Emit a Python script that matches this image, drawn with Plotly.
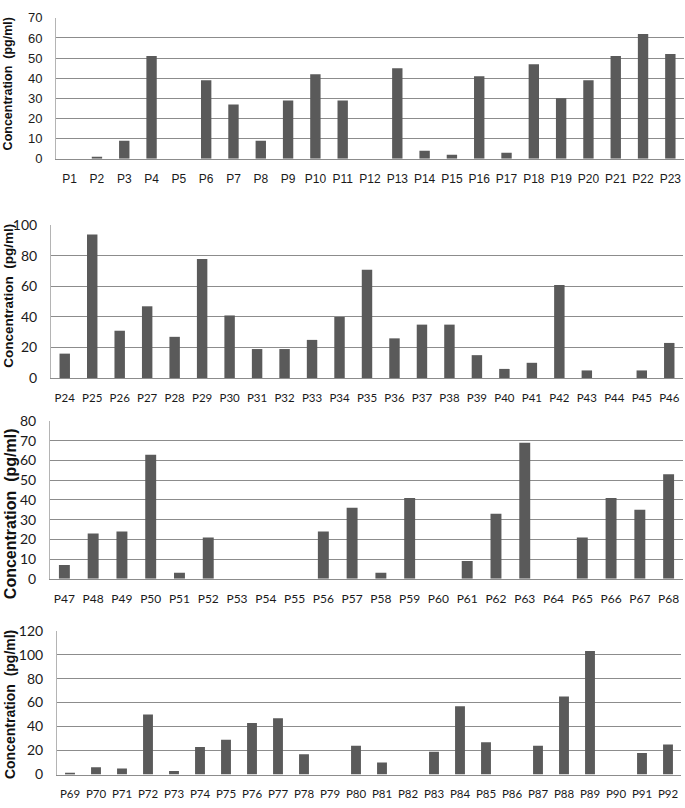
import plotly.graph_objects as go

W, H = 685, 808

# ---------------- data ----------------
cats1 = ["P1", "P2", "P3", "P4", "P5", "P6", "P7", "P8", "P9", "P10", "P11", "P12",
         "P13", "P14", "P15", "P16", "P17", "P18", "P19", "P20", "P21", "P22", "P23"]
vals1 = [0, 1, 9, 51, 0, 39, 27, 9, 29, 42, 29, 0, 45, 4, 2, 41, 3, 47, 30, 39, 51, 62, 52]

cats2 = ["P24", "P25", "P26", "P27", "P28", "P29", "P30", "P31", "P32", "P33", "P34", "P35",
         "P36", "P37", "P38", "P39", "P40", "P41", "P42", "P43", "P44", "P45", "P46"]
vals2 = [16, 94, 31, 47, 27, 78, 41, 19, 19, 25, 40, 71, 26, 35, 35, 15, 6, 10, 61, 5, 0, 5, 23]

cats3 = ["P47", "P48", "P49", "P50", "P51", "P52", "P53", "P54", "P55", "P56", "P57",
         "P58", "P59", "P60", "P61", "P62", "P63", "P64", "P65", "P66", "P67", "P68"]
vals3 = [7, 23, 24, 63, 3, 21, 0, 0, 0, 24, 36, 3, 41, 0, 9, 33, 69, 0, 21, 41, 35, 53]

cats4 = ["P69", "P70", "P71", "P72", "P73", "P74", "P75", "P76", "P77", "P78", "P79", "P80",
         "P81", "P82", "P83", "P84", "P85", "P86", "P87", "P88", "P89", "P90", "P91", "P92"]
vals4 = [1, 6, 5, 50, 3, 23, 29, 43, 47, 17, 0, 24, 10, 0, 19, 57, 27, 0, 24, 65, 103, 0, 18, 25]

y_max = [70, 100, 80, 120]
y_step = [10, 20, 10, 20]
y_title = "Concentration\u00a0 (pg/ml)"

# ---------------- layout geometry (pixels) ----------------
ARIAL = "Liberation Sans, Arial, sans-serif"
CALI = "Lato, Liberation Sans, Arial, sans-serif"
panels = [
    dict(x0=56, x1=684, yb=153, yt=9, tx=8, ty=77, ts=12.5, xs=12, ys=13, fam=ARIAL),
    dict(x0=51, x1=683, yb=377, yt=221, tx=9, ty=293, ts=13.5, xs=11.5, ys=14, fam=CALI),
    dict(x0=50, x1=683, yb=582, yt=421, tx=10, ty=516, ts=16, xs=12, ys=14, fam=CALI),
    dict(x0=57, x1=681, yb=782, yt=635, tx=10, ty=711, ts=14, xs=11.5, ys=14, fam=CALI),
]

cats_all = [cats1, cats2, cats3, cats4]
vals_all = [vals1, vals2, vals3, vals4]

BAR = "#5a5a5a"
GRID = "#8c8c8c"
AXL = "#b4b4b4"

fig = go.Figure()
layout = dict(
    width=W, height=H, autosize=False,
    margin=dict(l=0, r=0, t=0, b=0, pad=0),
    paper_bgcolor="white", plot_bgcolor="white",
    showlegend=False,
    bargap=0.62,
    annotations=[],
)

for i, (p, cats, vals) in enumerate(zip(panels, cats_all, vals_all)):
    n = i + 1
    xa = "x" if n == 1 else f"x{n}"
    ya = "y" if n == 1 else f"y{n}"
    xkey = "xaxis" if n == 1 else f"xaxis{n}"
    ykey = "yaxis" if n == 1 else f"yaxis{n}"

    fig.add_trace(go.Bar(x=cats, y=vals, xaxis=xa, yaxis=ya,
                         marker=dict(color=BAR, line=dict(width=0))))

    layout[xkey] = dict(
        domain=[p["x0"] / W, p["x1"] / W],
        anchor=ya,
        type="category",
        range=[-0.5, len(cats) - 0.5],
        showgrid=False,
        showline=True, linecolor=GRID, linewidth=1,
        ticks="", ticklabelstandoff=9, tickangle=0,
        tickfont=dict(family=p["fam"], size=p["xs"], color="#1a1a1a"),
        fixedrange=True,
    )
    layout[ykey] = dict(
        domain=[1 - p["yb"] / H, 1 - p["yt"] / H],
        anchor=xa,
        range=[0, y_max[i]],
        dtick=y_step[i], tick0=0,
        showgrid=True, gridcolor=GRID, gridwidth=1,
        zeroline=False,
        showline=True, linecolor=AXL, linewidth=1,
        ticks="", ticklabelstandoff=10,
        tickfont=dict(family=p["fam"], size=p["ys"], color="#1a1a1a"),
        fixedrange=True,
    )
    layout["annotations"].append(dict(
        text=y_title, xref="paper", yref="paper",
        x=p["tx"] / W, y=1 - p["ty"] / H,
        xanchor="center", yanchor="middle",
        textangle=-90, showarrow=False,
        font=dict(family=ARIAL, size=p["ts"], color="#111111", weight="bold"),
    ))

fig.update_layout(**layout)
fig.write_html(
    "out.html",
    config={"responsive": False, "displayModeBar": False},
    post_script="document.body.style.margin='0';document.body.style.padding='0';"
                "document.body.style.overflow='hidden';",
)
